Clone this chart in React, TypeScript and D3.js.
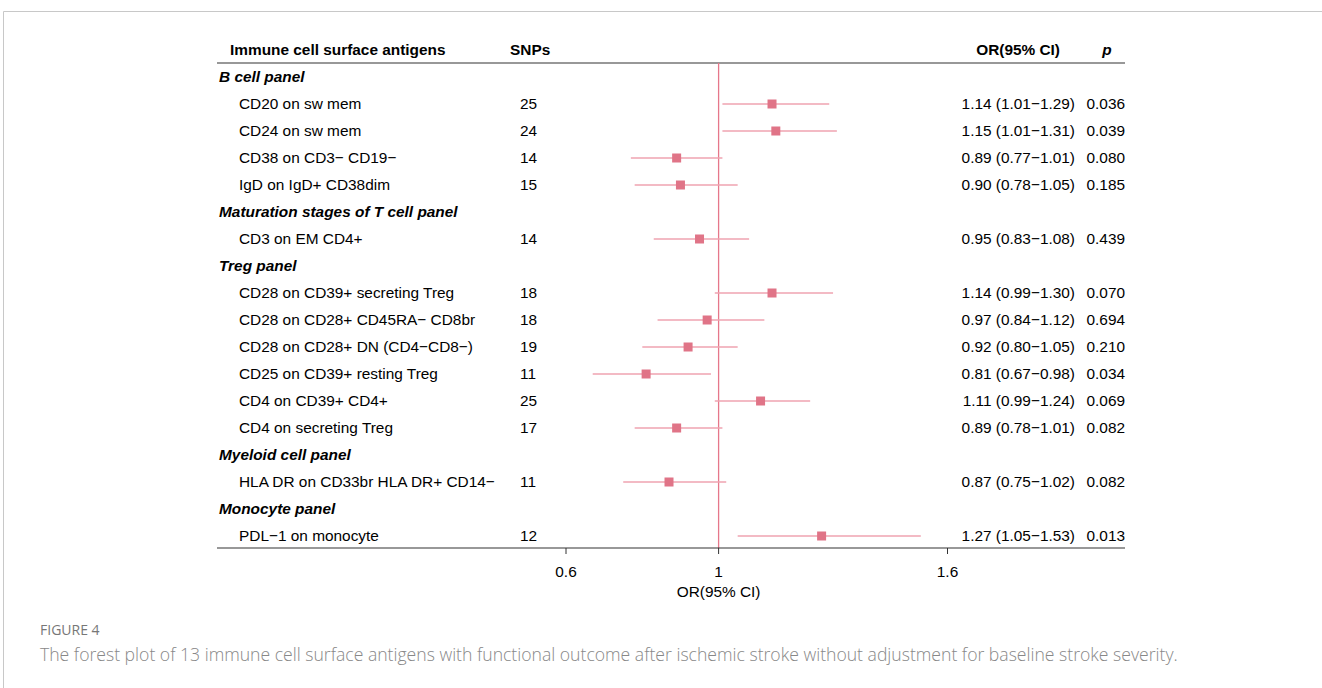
import React from 'react';
import * as d3 from 'd3';

// rows in display order; type 'g' = panel heading, 'r' = antigen row
const rowTypes = ['g', 'r', 'r', 'r', 'r', 'g', 'r', 'g', 'r', 'r', 'r', 'r', 'r', 'r', 'g', 'r', 'g', 'r'];
const labels = [
  'B cell panel',
  'CD20 on sw mem',
  'CD24 on sw mem',
  'CD38 on CD3\u2212 CD19\u2212',
  'IgD on IgD+ CD38dim',
  'Maturation stages of T cell panel',
  'CD3 on EM CD4+',
  'Treg panel',
  'CD28 on CD39+ secreting Treg',
  'CD28 on CD28+ CD45RA\u2212 CD8br',
  'CD28 on CD28+ DN (CD4\u2212CD8\u2212)',
  'CD25 on CD39+ resting Treg',
  'CD4 on CD39+ CD4+',
  'CD4 on secreting Treg',
  'Myeloid cell panel',
  'HLA DR on CD33br HLA DR+ CD14\u2212',
  'Monocyte panel',
  'PDL\u22121 on monocyte',
];
const snps = [null, 25, 24, 14, 15, null, 14, null, 18, 18, 19, 11, 25, 17, null, 11, null, 12];
const or = [null, 1.14, 1.15, 0.89, 0.90, null, 0.95, null, 1.14, 0.97, 0.92, 0.81, 1.11, 0.89, null, 0.87, null, 1.27];
const lower = [null, 1.01, 1.01, 0.77, 0.78, null, 0.83, null, 0.99, 0.84, 0.80, 0.67, 0.99, 0.78, null, 0.75, null, 1.05];
const upper = [null, 1.29, 1.31, 1.01, 1.05, null, 1.08, null, 1.30, 1.12, 1.05, 0.98, 1.24, 1.01, null, 1.02, null, 1.53];
const pvals = ['', '0.036', '0.039', '0.080', '0.185', '', '0.439', '', '0.070', '0.694', '0.210', '0.034', '0.069', '0.082', '', '0.082', '', '0.013'];
const xTicks = [0.6, 1, 1.6];

const FONT = '"Liberation Sans", Arial, sans-serif';
const CAP_FONT = '"Open Sans", "Noto Sans", sans-serif';

export default function App() {
  const width = 1322;
  const height = 688;
  const left = 217;
  const right = 1125;
  const topLine = 63;
  const axisY = 548;
  const fs = 15.4;

  const x = d3.scaleLinear().domain([0.6, 1.6]).range([566, 947.5]);
  const y = d3.scaleBand<number>()
    .domain(d3.range(labels.length))
    .range([63.5, 549.5]);
  const cy = (i: number) => (y(i) as number) + y.bandwidth() / 2;

  const fmt = d3.format('.2f');
  const sq = 9;

  return (
    <svg width={width} height={height} style={{ position: 'absolute', left: 0, top: 0 }}>
      <rect width={width} height={height} fill="#fff" />
      {/* page frame */}
      <line x1={3.5} x2={width} y1={11.5} y2={11.5} stroke="#c8c8c8" />
      <line x1={3.5} x2={3.5} y1={11.5} y2={height} stroke="#c8c8c8" />

      {/* header */}
      <g fontFamily={FONT} fontSize={fs} fontWeight="bold" fill="#000">
        <text x={230} y={55}>Immune cell surface antigens</text>
        <text x={510} y={55}>SNPs</text>
        <text x={1060} y={55} textAnchor="end">OR(95% CI)</text>
        <text x={1107} y={55} textAnchor="middle" fontStyle="italic">p</text>
      </g>
      <line x1={left} x2={right} y1={topLine} y2={topLine} stroke="#333" strokeWidth={1.2} />

      {/* reference line */}
      <line x1={x(1)} x2={x(1)} y1={topLine} y2={axisY} stroke="#e6778a" strokeWidth={1.3} />

      {/* rows */}
      <g fontFamily={FONT} fontSize={fs} fill="#000">
        {labels.map((lab, i) => {
          const yy = cy(i) + 5.3;
          if (rowTypes[i] === 'g') {
            return (
              <text key={i} x={219} y={yy} fontWeight="bold" fontStyle="italic">{lab}</text>
            );
          }
          return (
            <g key={i}>
              <text x={239} y={yy}>{lab}</text>
              <text x={520} y={yy}>{snps[i]}</text>
              <text x={1075} y={yy} textAnchor="end">
                {`${fmt(or[i] as number)} (${fmt(lower[i] as number)}\u2212${fmt(upper[i] as number)})`}
              </text>
              <text x={right} y={yy} textAnchor="end">{pvals[i]}</text>
            </g>
          );
        })}
      </g>

      {/* CIs and point estimates */}
      {labels.map((_, i) => {
        if (rowTypes[i] !== 'r') return null;
        const c = cy(i);
        return (
          <g key={i}>
            <line x1={x(lower[i] as number)} x2={x(upper[i] as number)} y1={c} y2={c} stroke="#efa3b1" strokeWidth={1.6} />
            <rect x={x(or[i] as number) - sq / 2} y={c - sq / 2} width={sq} height={sq} fill="#e07487" />
          </g>
        );
      })}

      {/* x axis */}
      <line x1={left} x2={right} y1={axisY} y2={axisY} stroke="#333" strokeWidth={1.2} />
      {xTicks.map(t => (
        <g key={t} transform={`translate(${x(t)},${axisY})`}>
          <line y2={6} stroke="#333" />
          <text y={29} textAnchor="middle" fontFamily={FONT} fontSize={fs}>{String(t)}</text>
        </g>
      ))}
      <text x={x(1)} y={597} textAnchor="middle" fontFamily={FONT} fontSize={fs}>OR(95% CI)</text>

      {/* caption */}
      <text x={40} y={635} fontFamily={CAP_FONT} fontSize={14} fill="#777">FIGURE 4</text>
      <text x={40} y={661} fontFamily={CAP_FONT} fontSize={17.6} fontWeight={300} fill="#888">
        The forest plot of 13 immune cell surface antigens with functional outcome after ischemic stroke without adjustment for baseline stroke severity.
      </text>
    </svg>
  );
}
